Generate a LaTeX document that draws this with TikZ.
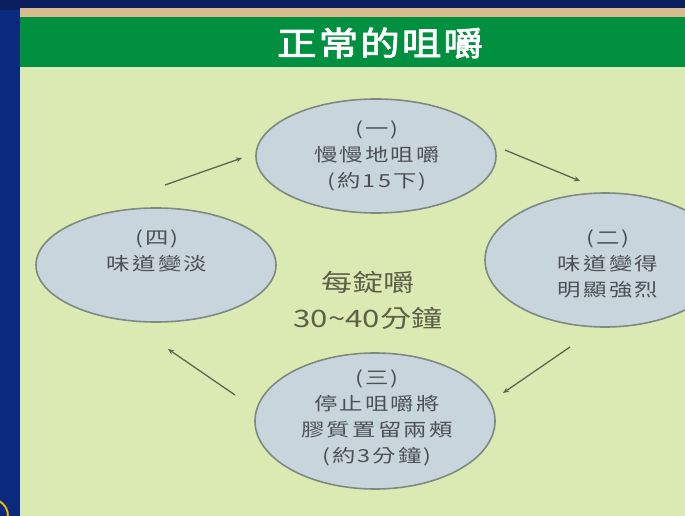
\documentclass[tikz,border=0pt]{standalone}
\usepackage{fontspec}
\newfontfamily\cjk[FakeStretch=1.3]{Noto Sans CJK TC}
\newfontfamily\cjks[FakeStretch=1.3,LetterSpace=12]{Noto Sans CJK TC}
\newfontfamily\cjkb[FakeBold=2.5,FakeStretch=1.2,LetterSpace=6]{Noto Sans CJK TC}
\usetikzlibrary{arrows.meta,shapes.geometric}
\definecolor{bgblue}{HTML}{0A2A80}
\definecolor{darkblue}{HTML}{0A1F5C}
\definecolor{tan}{HTML}{D6BC8E}
\definecolor{band}{HTML}{009040}
\definecolor{panel}{HTML}{DBE9B3}
\definecolor{ellfill}{HTML}{C9D5DD}
\definecolor{elldraw}{HTML}{7D8A82}
\definecolor{elltext}{HTML}{4C5056}
\definecolor{midtext}{HTML}{5C6048}
\definecolor{arrowcol}{HTML}{5E6650}
\definecolor{ringcol}{HTML}{F2C200}
\tikzset{
  stage/.style={ellipse, fill=ellfill, draw=elldraw, line width=1.6pt, minimum width=240pt, minimum height=114pt, inner sep=0pt},
  stagetext/.style={font=\cjks\fontsize{18}{26}\selectfont, text=elltext, align=center},
  cyc/.style={draw=arrowcol, line width=1.3pt, -{Stealth[length=6pt,width=5pt]}}
}
\begin{document}
\begin{tikzpicture}[x=1pt,y=-1pt]
\useasboundingbox (0,0) rectangle (685,516);
\fill[bgblue] (0,0) rectangle (685,516);
\fill[darkblue] (0,0) rectangle (685,10);
\fill[tan] (20,8) rectangle (685,17);
\fill[band] (20,17) rectangle (685,67);
\fill[panel] (20,67) rectangle (685,516);
\draw[black!70, line width=2.6pt] (-9,516) circle[radius=17pt];
\draw[ringcol, line width=1.6pt] (-9,516) circle[radius=17pt];
\node[font=\cjkb\fontsize{33}{33}\selectfont, text=white] (title) at (380,43) {正常的咀嚼};
% ellipses
\node[stage] (s1) at (376,156) {};
\node[stage] (s4) at (156,265) {};
\node[stage, minimum height=134pt] (s2) at (605,260) {};
\node[stage, minimum height=136pt] (s3) at (375,421) {};
% texts
\node[stagetext] (t1) at (377,156) {(一)\\慢慢地咀嚼\\(約15下)};
\node[stagetext] (t4) at (157,251) {(四)\\味道變淡};
\node[stagetext] (t2) at (608,264) {(二)\\味道變得\\明顯強烈};
\node[stagetext] (t3) at (377,418) {(三)\\停止咀嚼將\\膠質置留兩頰\\(約3分鐘)};
\node[font=\cjk\fontsize{24}{36}\selectfont, text=midtext, align=center] (mid) at (368,300) {每錠嚼\\30\textasciitilde40分鐘};
% arrows
\coordinate (a1s) at (165,185); \coordinate (a1e) at (242,158);
\coordinate (a2s) at (505,150); \coordinate (a2e) at (580,181);
\coordinate (a3s) at (570,347); \coordinate (a3e) at (503,393);
\coordinate (a4s) at (235,395); \coordinate (a4e) at (168,349);
\draw[cyc] (a1s) -- (a1e);
\draw[cyc] (a2s) -- (a2e);
\draw[cyc] (a3s) -- (a3e);
\draw[cyc] (a4s) -- (a4e);
\end{tikzpicture}
\end{document}
